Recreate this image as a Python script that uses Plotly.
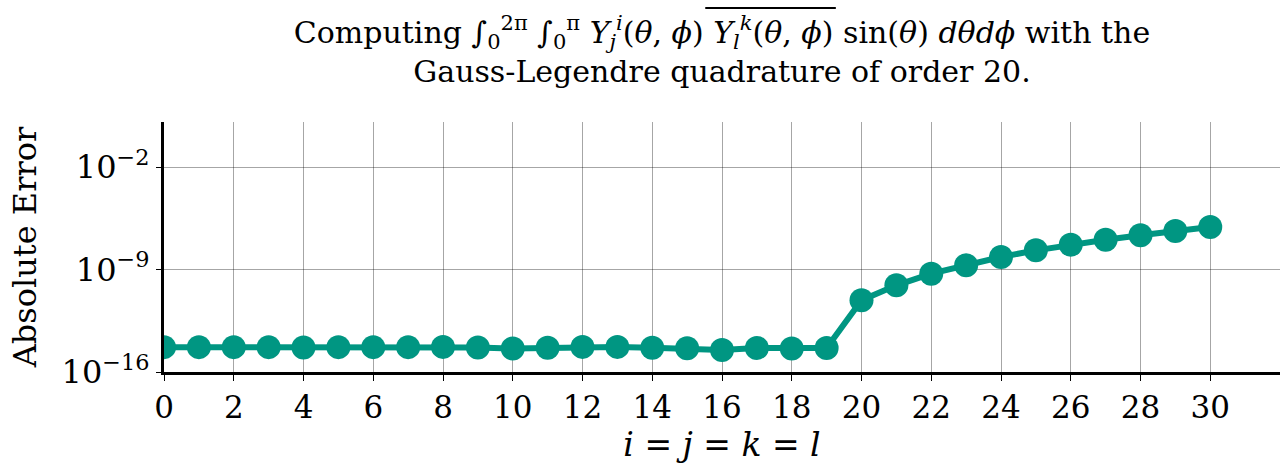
import plotly.graph_objects as go

n_values = list(range(31))
abs_error = [
    5.0e-15, 5.0e-15, 5.0e-15, 5.0e-15, 4.8e-15, 5.0e-15, 5.0e-15, 5.0e-15, 5.2e-15, 4.8e-15,
    4.0e-15, 4.6e-15, 5.2e-15, 5.2e-15, 4.6e-15, 4.2e-15, 3.2e-15, 4.4e-15, 4.0e-15, 4.4e-15,
    8.0e-12, 8.3e-11, 5.2e-10, 1.95e-09, 7.2e-09, 2.05e-08, 5.0e-08, 1.1e-07, 2.2e-07, 4.3e-07, 8.0e-07,
]
x_ticks = list(range(0, 31, 2))
y_ticks = [1e-16, 1e-9, 1e-2]
y_tick_labels = ["10<sup>−16</sup>", "10<sup>−9</sup>", "10<sup>−2</sup>"]

FONT = "DejaVu Serif"
COLOR = "rgb(0,150,130)"

title_text = (
    "Computing ∫<sub>0</sub><sup>2π</sup> ∫<sub>0</sub><sup>π</sup> "
    "<i>Y</i><sub><i>j</i></sub><sup><i>i</i></sup>(<i>θ</i>, <i>ϕ</i>) "
    "<i>Y</i><sub><i>l</i></sub><sup><i>k</i></sup>(<i>θ</i>, <i>ϕ</i>) "
    "sin(<i>θ</i>) <i>dθdϕ</i> with the<br>Gauss-Legendre quadrature of order 20."
)

fig = go.Figure()
fig.add_trace(go.Scatter(
    x=n_values, y=abs_error, mode="lines+markers",
    line=dict(color=COLOR, width=6),
    marker=dict(color=COLOR, size=24),
    showlegend=False,
))

# overline over the complex-conjugate factor in the title
fig.add_shape(type="line", xref="paper", yref="paper",
              x0=0.485, x1=0.602, y0=1.456, y1=1.456,
              line=dict(color="black", width=2))

fig.update_layout(
    width=1285, height=468,
    margin=dict(l=164, r=5, t=122, b=96),
    paper_bgcolor="white", plot_bgcolor="white",
    font=dict(family=FONT, color="black", size=26),
    title=dict(text=title_text, x=0.5, xref="paper", xanchor="center",
               y=1 - 43 / 468, yref="container", yanchor="middle",
               font=dict(family=FONT, size=30, color="black")),
)
fig.update_xaxes(
    range=[0, 32], tickvals=x_ticks,
    showgrid=True, gridcolor="rgba(0,0,0,0.35)", gridwidth=1,
    showline=True, linecolor="black", linewidth=3,
    ticks="outside", ticklen=6, tickcolor="black", tickwidth=1,
    tickfont=dict(family=FONT, size=31),
    zeroline=False,
    title=dict(text="<i>i</i> = <i>j</i> = <i>k</i> = <i>l</i>", font=dict(family=FONT, size=33), standoff=5),
)
fig.update_yaxes(
    type="log", range=[-16, 1.08], tickvals=y_ticks, ticktext=y_tick_labels,
    showgrid=True, gridcolor="rgba(0,0,0,0.35)", gridwidth=1,
    showline=True, linecolor="black", linewidth=3,
    ticks="outside", ticklen=5, tickcolor="black", tickwidth=1,
    tickfont=dict(family=FONT, size=32),
    zeroline=False,
    title=dict(text="Absolute Error", font=dict(family=FONT, size=32), standoff=16),
)

fig.write_html("out.html")
